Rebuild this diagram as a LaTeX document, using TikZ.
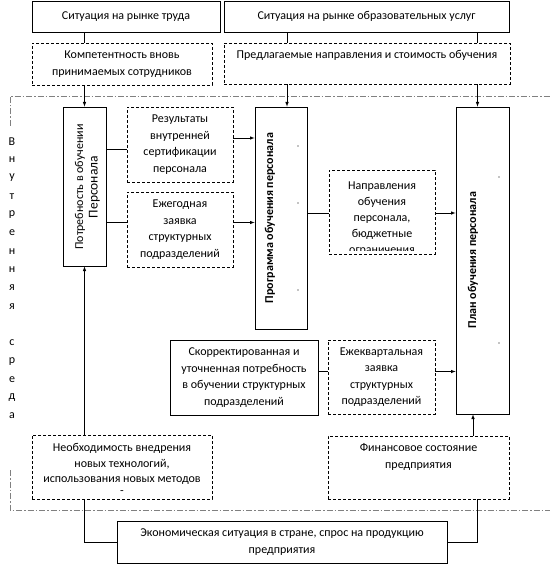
\documentclass[tikz,border=0pt]{standalone}
\usepackage{fontspec}
\setmainfont{Carlito}
\usepackage{tikz}
\usetikzlibrary{calc}
\usetikzlibrary{positioning}

\begin{document}
\begin{tikzpicture}[x=1pt,y=-1pt,
		txt/.style={font=\fontsize{12}{16.5}\selectfont, align=center, inner sep=0pt},
		solidbox/.style={draw, line width=0.8pt, txt},
		dashbox/.style={solidbox, dash pattern=on 3pt off 2pt},
		link/.style={line width=0.6pt},
		arr/.style={link, -latex},
		border/.style={gray, line width=0.6pt, dash pattern=on 6pt off 2pt on 1.5pt off 2pt}]
			\useasboundingbox (0,0) rectangle (550,564);
			
			% outer environment
			\node[solidbox, minimum width=188pt, minimum height=31pt] (labor) at (126,16.5) {Ситуация на рынке труда};
			\node[solidbox, minimum width=285pt, minimum height=31pt] (edu) at (366.5,16.5) {Ситуация на рынке образовательных услуг};
			\node[dashbox, minimum width=180pt, minimum height=42pt] (comp) at (122,64) {Компетентность вновь\\принимаемых сотрудников};
			\node[dashbox, minimum width=286pt, minimum height=41pt] (offer) at (367,63.5) {\strut Предлагаемые направления и стоимость обучения\\\strut};
			
			% inner environment
			\draw[border] (10,126) -- (10,96) -- (550,96);
			\draw[border] (10,470) -- (10,510) -- (550,510);
			\foreach \ch [count=\i] in {В,н,у,т,р,е,н,н,я,я,{},с,р,е,д,а}
			{
				\node[txt] (letter\i) at (12,{141.5+18.3*(\i-1)}) {\ch};
			}
			
			\node[solidbox, minimum width=43pt, minimum height=159pt] (need) at (84.5,186.5) {};
			\node[txt, rotate=90] (needtext) at (87.5,187) {Потребность в обучении\\[-2pt]{\fontsize{13.5}{16.5}\selectfont Персонала}};
			\node[dashbox, minimum width=106pt, minimum height=75pt] (cert) at (180,144.5) {Результаты\\внутренней\\сертификации\\персонала};
			\node[dashbox, minimum width=106pt, minimum height=75pt] (annual) at (180,229.5) {Ежегодная\\заявка\\структурных\\подразделений};
			
			\node[solidbox, minimum width=52pt, minimum height=222pt] (prog) at (281,218) {};
			\node[txt, rotate=90, font=\fontsize{12}{16.5}\selectfont\bfseries] (progtext) at (270,218) {Программа обучения персонала};
			\foreach \yy in {146,203,290}
				\fill (298,\yy) circle (0.6pt);
			
			\node[dashbox, minimum width=106pt, minimum height=84pt] (dirs) at (382,212) {};
			\begin{scope}
				\clip (dirs.north west) rectangle ($(dirs.south east)+(0,-4)$);
				\node[txt, font=\fontsize{12}{16}\selectfont] (dirstext) at (382,219) {Направления\\обучения\\персонала,\\бюджетные\\ограничения};
			\end{scope}
			
			\node[solidbox, minimum width=53pt, minimum height=307pt] (plan) at (482.5,260.5) {};
			\node[txt, rotate=90, font=\fontsize{12}{16.5}\selectfont\bfseries] (plantext) at (473,260) {План обучения персонала};
			\foreach \yy in {177,343}
				\fill (499,\yy) circle (0.6pt);
			
			\node[solidbox, minimum width=148pt, minimum height=75pt] (corr) at (244,377.5) {Скорректированная и\\уточненная потребность\\в обучении структурных\\подразделений};
			\node[dashbox, minimum width=107pt, minimum height=74pt] (quart) at (381.5,377) {Ежеквартальная\\заявка\\структурных\\подразделений};
			
			\node[dashbox, minimum width=180pt, minimum height=64pt] (newtech) at (122,467) {};
			\node[txt, font=\fontsize{12}{15.5}\selectfont] (techtext) at (122,469) {Необходимость внедрения\\новых технологий,\\использования новых методов\\[-4pt]-};
			\node[dashbox, minimum width=181pt, minimum height=63pt] (fin) at (418.5,467.5) {};
			\node[txt] (fintext) at (418.5,457) {Финансовое состояние\\предприятия};
			
			\node[solidbox, minimum width=330pt, minimum height=42pt] (econ) at (282,542) {Экономическая ситуация в стране, спрос на продукцию\\предприятия};
			
			% connectors
			\coordinate (progin) at ($(prog.north)+(6,0)$);
			\coordinate (planin) at ($(plan.north)+(-5,0)$);
			\draw[link] (labor.south -| need.north) -- (comp.north -| need.north);
			\draw[arr] (comp.south -| need.north) -- (need.north);
			\draw[link] (edu.south -| progin) -- (offer.north -| progin);
			\draw[link] (edu.south -| planin) -- (offer.north -| planin);
			\draw[arr] (offer.south -| progin) -- (progin);
			\draw[arr] (offer.south -| planin) -- (planin);
			
			\coordinate (c1) at ($(cert.west)+(0,4.5)$);
			\coordinate (a1) at ($(annual.west)+(0,-7.5)$);
			\draw[link] (need.east |- c1) -- (c1);
			\draw[link] (need.east |- a1) -- (a1);
			\coordinate (c2) at ($(cert.east)+(0,-6.5)$);
			\coordinate (a2) at ($(annual.east)+(0,-7)$);
			\draw[arr] (c2) -- (prog.west |- c2);
			\draw[arr] (a2) -- (prog.west |- a2);
			
			\coordinate (d1) at ($(dirs.west)+(0,1)$);
			\draw[link] (prog.east |- d1) -- (d1);
			\draw[arr] (dirs.east |- d1) -- (plan.west |- d1);
			\coordinate (q1) at ($(quart.west)+(0,-5.5)$);
			\draw[link] (corr.east |- q1) -- (q1);
			\draw[arr] (quart.east |- q1) -- (plan.west |- q1);
			
			\draw[arr] (newtech.north -| need.south) -- (need.south);
			\draw[link] (newtech.south -| need.south) |- (econ.west);
			\coordinate (f1) at ($(fin.south)+(58.5,0)$);
			\coordinate (f2) at ($(plan.south)+(-9.5,0)$);
			\draw[link] (econ.east) -| (f1);
			\draw[arr] (fin.north -| f2) -- (f2);
		\end{tikzpicture}
\end{document}
